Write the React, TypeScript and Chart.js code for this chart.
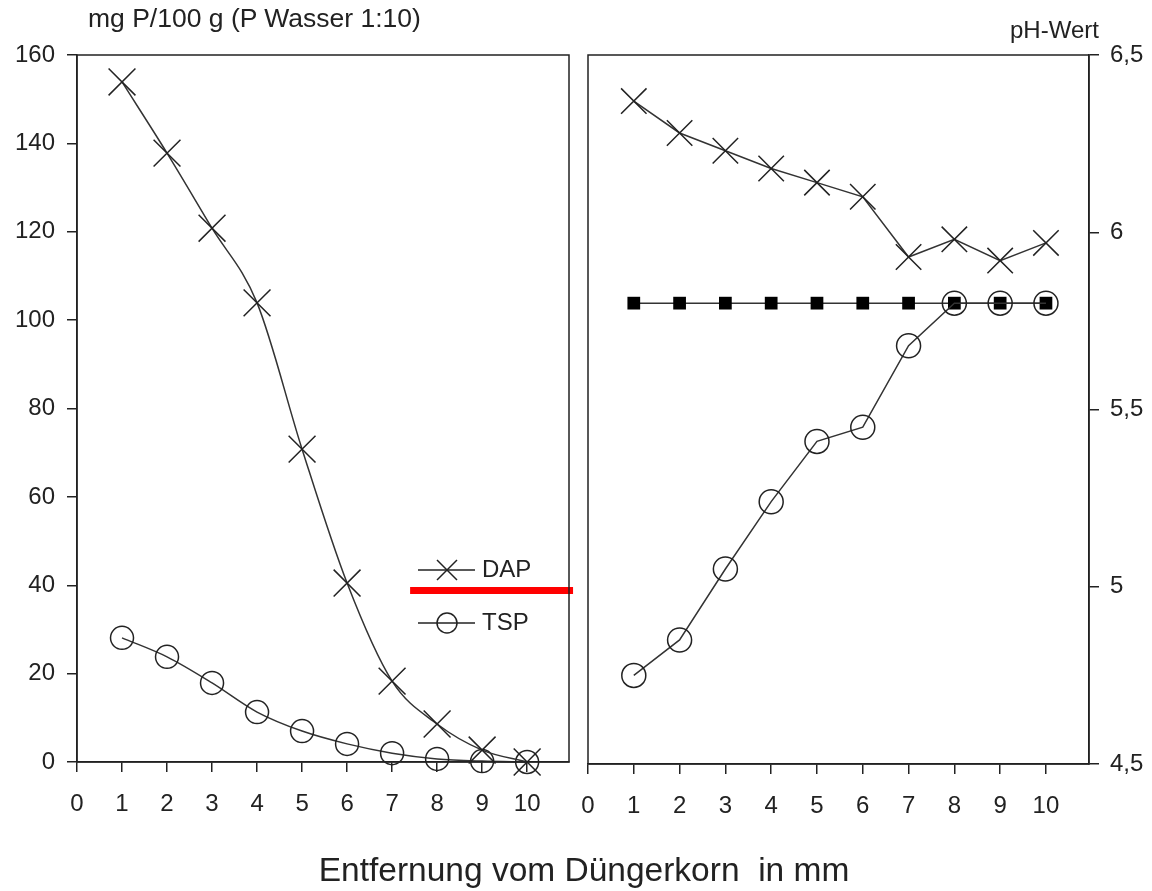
import React, { useEffect, useRef } from "react";
import { Chart, registerables } from "chart.js";

Chart.register(...registerables);

// ---- data ----
const distances = [1, 2, 3, 4, 5, 6, 7, 8, 9, 10];
const xTicks = [0, 1, 2, 3, 4, 5, 6, 7, 8, 9, 10];
const pLeftTicks = [0, 20, 40, 60, 80, 100, 120, 140, 160];
const phTicks = [4.5, 5, 5.5, 6, 6.5];

const dapP = [153.9, 137.8, 120.8, 103.9, 70.8, 40.5, 18.3, 8.6, 2.7, 0];
const tspP = [28.1, 23.8, 17.9, 11.3, 7.0, 4.1, 2.0, 0.7, 0.2, 0];

const dapPH = [6.37, 6.28, 6.23, 6.18, 6.14, 6.10, 5.93, 5.98, 5.92, 5.97];
const tspPH = [4.75, 4.85, 5.05, 5.24, 5.41, 5.45, 5.68, 5.80, 5.80, 5.80];
const controlPH = [5.80, 5.80, 5.80, 5.80, 5.80, 5.80, 5.80, 5.80, 5.80, 5.80];

const redBarX = [7.4, 11.02];
const redBarY = 38.8;

const legendLabels = ["DAP", "TSP"];

const FONT = "'Liberation Sans', Arial, Helvetica, sans-serif";
const INK = "#222";
const LINE = "#333";

const toXY = (ys: number[]) => ys.map((y, i) => ({ x: distances[i], y }));

const boxPlugin = {
  id: "box",
  afterDraw(chart: any) {
    const { ctx, chartArea: a } = chart;
    ctx.save();
    ctx.strokeStyle = INK;
    ctx.lineWidth = 1.5;
    ctx.strokeRect(a.left, a.top, a.right - a.left, a.bottom - a.top);
    ctx.restore();
  },
};

const legendPlugin = {
  id: "customLegend",
  afterDraw(chart: any) {
    const { ctx } = chart;
    ctx.save();
    ctx.strokeStyle = INK;
    ctx.fillStyle = INK;
    ctx.lineWidth = 1.5;
    const rows = [570, 623];
    rows.forEach((y, i) => {
      ctx.beginPath();
      ctx.moveTo(418, y);
      ctx.lineTo(475, y);
      ctx.stroke();
      ctx.beginPath();
      if (i === 0) {
        ctx.moveTo(437, y - 10);
        ctx.lineTo(457, y + 10);
        ctx.moveTo(457, y - 10);
        ctx.lineTo(437, y + 10);
      } else {
        ctx.arc(447, y, 10, 0, Math.PI * 2);
      }
      ctx.stroke();
      ctx.font = `24px ${FONT}`;
      ctx.textBaseline = "middle";
      ctx.textAlign = "left";
      ctx.fillText(legendLabels[i], 482, y);
    });
    ctx.restore();
  },
};

const tickFont = { family: FONT, size: 24 };

const fitX = (h: number) => (s: any) => {
  s.height = h;
  s.paddingLeft = 0;
  s.paddingRight = 0;
};

function LeftChart() {
  const ref = useRef<HTMLCanvasElement>(null);
  useEffect(() => {
    const chart = new Chart(ref.current!, {
      type: "line",
      data: {
        datasets: [
          {
            label: "DAP",
            data: toXY(dapP),
            borderColor: LINE,
            borderWidth: 1.5,
            pointStyle: "crossRot",
            pointRadius: 19,
            pointBorderColor: INK,
            pointBorderWidth: 1.5,
            cubicInterpolationMode: "monotone",
            clip: false as any,
          },
          {
            label: "TSP",
            data: toXY(tspP),
            borderColor: LINE,
            borderWidth: 1.5,
            pointStyle: "circle",
            pointRadius: 11.5,
            pointBackgroundColor: "transparent",
            pointBorderColor: INK,
            pointBorderWidth: 1.5,
            cubicInterpolationMode: "monotone",
            clip: false as any,
          },
          {
            label: "bar",
            data: redBarX.map((x) => ({ x, y: redBarY })),
            borderColor: "#ff0000",
            borderWidth: 7,
            pointRadius: 0,
            clip: false as any,
          },
        ],
      },
      options: {
        animation: false,
        responsive: false,
        layout: { autoPadding: false, padding: { top: 55, right: 11, left: 0, bottom: 0 } },
        plugins: { legend: { display: false }, tooltip: { enabled: false } },
        scales: {
          x: {
            type: "linear",
            min: 0,
            max: 10.93,
            afterBuildTicks: (s: any) => {
              s.ticks = xTicks.map((v) => ({ value: v }));
            },
            afterFit: fitX(891 - 762),
            grid: { display: true, drawOnChartArea: false, drawTicks: true, tickLength: 10, color: INK, lineWidth: 1.5 },
            border: { display: true, color: INK, width: 1.5 },
            ticks: { font: tickFont, color: INK, padding: 18, maxRotation: 0, autoSkip: false },
          },
          y: {
            type: "linear",
            min: 0,
            max: 160,
            afterBuildTicks: (s: any) => {
              s.ticks = pLeftTicks.map((v) => ({ value: v }));
            },
            afterFit: (s: any) => {
              s.width = 77;
            },
            grid: { display: true, drawOnChartArea: false, drawTicks: true, tickLength: 10, color: INK, lineWidth: 1.5 },
            border: { display: true, color: INK, width: 1.5 },
            ticks: { font: tickFont, color: INK, padding: 12 },
          },
        },
      },
      plugins: [boxPlugin, legendPlugin],
    } as any);
    return () => chart.destroy();
  }, []);
  return <canvas ref={ref} width={580} height={891} style={{ position: "absolute", left: 0, top: 0, width: 580, height: 891 }} />;
}

function RightChart() {
  const ref = useRef<HTMLCanvasElement>(null);
  useEffect(() => {
    const chart = new Chart(ref.current!, {
      type: "line",
      data: {
        datasets: [
          {
            label: "DAP",
            data: toXY(dapPH),
            borderColor: LINE,
            borderWidth: 1.5,
            pointStyle: "crossRot",
            pointRadius: 18,
            pointBorderColor: INK,
            pointBorderWidth: 1.5,
            tension: 0,
          },
          {
            label: "TSP",
            data: toXY(tspPH),
            borderColor: LINE,
            borderWidth: 1.5,
            pointStyle: "circle",
            pointRadius: 12,
            pointBackgroundColor: "transparent",
            pointBorderColor: INK,
            pointBorderWidth: 1.5,
            tension: 0,
          },
          {
            label: "Kontrolle",
            data: toXY(controlPH),
            borderColor: LINE,
            borderWidth: 1.5,
            pointStyle: "rect",
            pointRadius: 9,
            pointBackgroundColor: "#000",
            pointBorderColor: "#000",
            pointBorderWidth: 0,
            tension: 0,
          },
        ],
      },
      options: {
        animation: false,
        responsive: false,
        layout: { autoPadding: false, padding: { top: 55, right: 0, left: 8, bottom: 0 } },
        plugins: { legend: { display: false }, tooltip: { enabled: false } },
        scales: {
          x: {
            type: "linear",
            min: 0,
            max: 10.94,
            afterBuildTicks: (s: any) => {
              s.ticks = xTicks.map((v) => ({ value: v }));
            },
            afterFit: fitX(891 - 764),
            grid: { display: true, drawOnChartArea: false, drawTicks: true, tickLength: 10, color: INK, lineWidth: 1.5 },
            border: { display: true, color: INK, width: 1.5 },
            ticks: { font: tickFont, color: INK, padding: 18, maxRotation: 0, autoSkip: false },
          },
          y: {
            type: "linear",
            position: "right",
            min: 4.5,
            max: 6.5,
            afterBuildTicks: (s: any) => {
              s.ticks = phTicks.map((v) => ({ value: v }));
            },
            afterFit: (s: any) => {
              s.width = 572 - 509;
            },
            grid: { display: true, drawOnChartArea: false, drawTicks: true, tickLength: 10, color: INK, lineWidth: 1.5 },
            border: { display: true, color: INK, width: 1.5 },
            ticks: {
              font: tickFont,
              color: INK,
              padding: 11,
              callback: (v: any) => String(v).replace(".", ","),
            },
          },
        },
      },
      plugins: [boxPlugin],
    } as any);
    return () => chart.destroy();
  }, []);
  return <canvas ref={ref} width={572} height={891} style={{ position: "absolute", left: 580, top: 0, width: 572, height: 891 }} />;
}

export default function App() {
  return (
    <div style={{ position: "absolute", left: 0, top: 0, width: 1152, height: 891, background: "#fff", fontFamily: FONT, color: INK, overflow: "hidden" }}>
      <LeftChart />
      <RightChart />
      <div style={{ position: "absolute", left: 88, top: 2, fontSize: 26.5, lineHeight: "32px", whiteSpace: "nowrap" }}>
        mg P/100 g (P Wasser 1:10)
      </div>
      <div style={{ position: "absolute", left: 1010, top: 14, fontSize: 24, lineHeight: "32px", whiteSpace: "nowrap" }}>
        pH-Wert
      </div>
      <div style={{ position: "absolute", left: 0, width: 1168, top: 850, fontSize: 33.5, lineHeight: "40px", textAlign: "center", whiteSpace: "pre" }}>
        {"Entfernung vom Düngerkorn  in mm"}
      </div>
    </div>
  );
}
